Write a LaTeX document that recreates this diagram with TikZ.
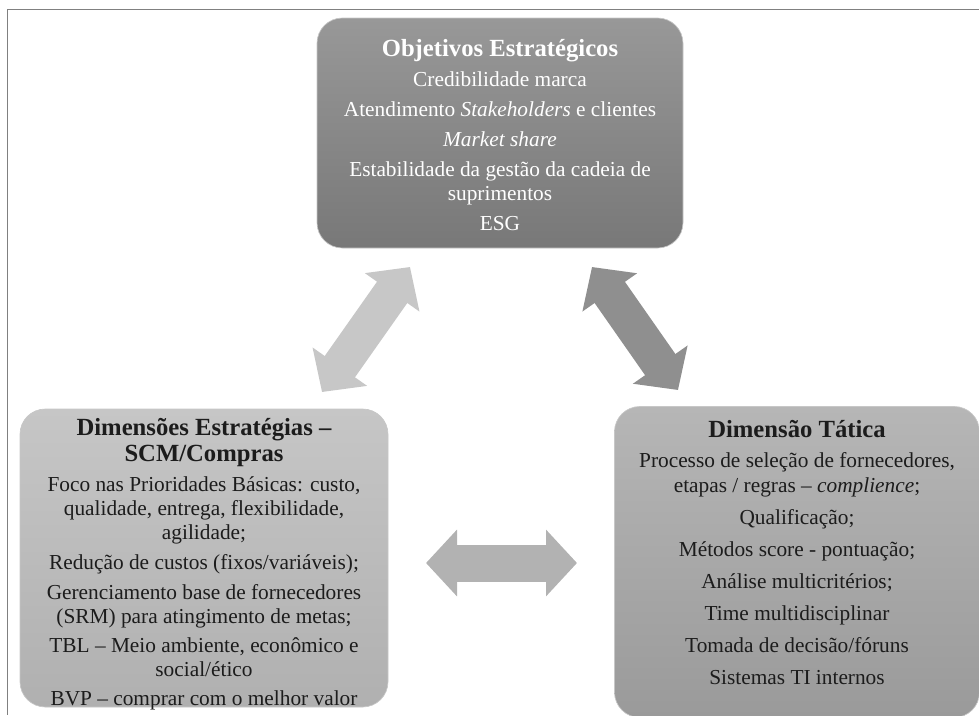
\documentclass[tikz,border=0pt]{standalone}
\usepackage{fontspec}
\setmainfont{Liberation Serif}
\usetikzlibrary{arrows.meta,positioning,calc}
\definecolor{objHi}{RGB}{152,152,152}
\definecolor{objLo}{RGB}{120,120,120}
\definecolor{estHi}{RGB}{198,198,198}
\definecolor{estLo}{RGB}{176,176,176}
\definecolor{tatHi}{RGB}{182,182,182}
\definecolor{tatLo}{RGB}{154,154,154}
\definecolor{inkDark}{RGB}{28,28,28}

\begin{document}
\begin{tikzpicture}[
  x=0.75pt, y=-0.75pt,
  font=\fontsize{16}{18}\selectfont,
  panel/.style={rounded corners=19pt, draw=black!22, line width=0.5pt, inner sep=0pt},
  panelText/.style={align=center, inner sep=0pt, anchor=north},
  twoway/.style={line width=27.75pt,
                 {Triangle[width=48.75pt,length=23.25pt]}-{Triangle[width=48.75pt,length=23.25pt]}},
]

\def\headfont{\fontsize{18.5}{20}\selectfont\bfseries}
\def\gap{4.5pt}
\def\gapwide{6pt}

\useasboundingbox (0,0) rectangle (979,715);
\clip (0,0) rectangle (979,715);

% ---------- frame ----------
\draw[black!50, line width=1.1pt] (979,9.5) -- (7.5,9.5) -- (7.5,715);

% ---------- panels ----------
\node[panel, top color=objHi, bottom color=objLo,
      minimum width=274.5pt, minimum height=172.5pt] (obj) at (500,133) {};
\node[panel, top color=estHi, bottom color=estLo,
      minimum width=276pt, minimum height=223.5pt] (est) at (204,558) {};
\node[panel, top color=tatHi, bottom color=tatLo,
      minimum width=273.75pt, minimum height=233.25pt] (tat) at (797,562) {};

% ---------- texts ----------
\node[panelText, text=white] (objTxt) at ($(obj.north)+(0,21)$) {%
  {\headfont Objetivos Estratégicos}\\[\gap]
  Credibilidade marca\\[\gap]
  Atendimento \textit{Stakeholders} e clientes\\[\gap]
  \textit{Market share}\\[\gap]
  Estabilidade da gestão da cadeia de\\
  suprimentos\\[\gap]
  ESG};

\node[panelText, text=inkDark] (estTxt) at ($(est.north)+(0,9)$) {%
  {\headfont Dimensões Estratégias --}\\[2pt]
  {\headfont SCM/Compras}\\[\gap]
  Foco nas Prioridades Básicas: custo,\\
  qualidade, entrega, flexibilidade,\\
  agilidade;\\[\gap]
  Redução de custos (fixos/variáveis);\\[\gap]
  Gerenciamento base de fornecedores\\
  (SRM) para atingimento de metas;\\[3.5pt]
  TBL -- Meio ambiente, econômico e\\
  social/ético\\[3.5pt]
  BVP -- comprar com o melhor valor};

\node[panelText, text=inkDark] (tatTxt) at ($(tat.north)+(0,14)$) {%
  {\headfont Dimensão Tática}\\[\gap]
  Processo de seleção de fornecedores,\\[1pt]
  etapas / regras -- \textit{complience};\\[\gapwide]
  Qualificação;\\[\gapwide]
  Métodos score - pontuação;\\[\gapwide]
  Análise multicritérios;\\[\gapwide]
  Time multidisciplinar\\[\gapwide]
  Tomada de decisão/fóruns\\[\gapwide]
  Sistemas TI internos};

% ---------- two-way arrows ----------
\coordinate (estUp)  at (322,392);
\coordinate (objDnL) at (410,267);
\coordinate (objDnR) at (592,267);
\coordinate (tatUp)  at (678,390);
\coordinate (estRt)  at (426,563);
\coordinate (tatLt)  at (577,563);

\draw[twoway, draw=black!22, fill=black!22] (estUp) -- (objDnL);
\draw[twoway, draw=black!44, fill=black!44] (objDnR) -- (tatUp);
\draw[twoway, draw=black!30, fill=black!30] (estRt) -- (tatLt);

\end{tikzpicture}
\end{document}
